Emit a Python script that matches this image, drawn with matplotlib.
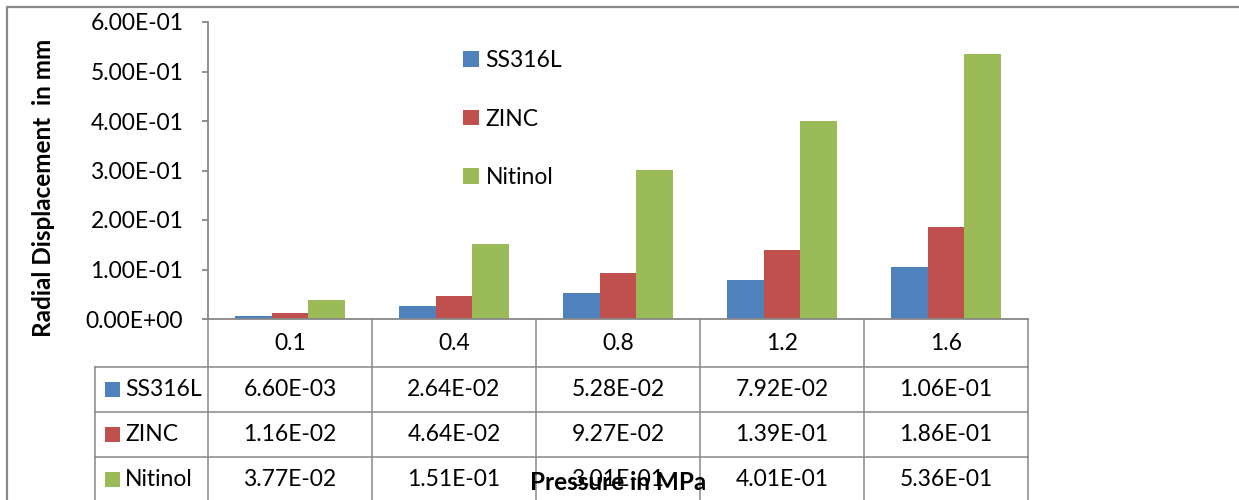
import matplotlib
matplotlib.use("Agg")
import matplotlib.pyplot as plt
from matplotlib.lines import Line2D
from matplotlib.patches import Rectangle, Patch
from matplotlib import transforms
import numpy as np

# Data: radial displacement (mm) vs. applied pressure (MPa)
pressures = ["0.1", "0.4", "0.8", "1.2", "1.6"]
materials = ["SS316L", "ZINC", "Nitinol"]
ss316l = [6.60e-3, 2.64e-2, 5.28e-2, 7.92e-2, 1.06e-1]
zinc = [1.16e-2, 4.64e-2, 9.27e-2, 1.39e-1, 1.86e-1]
nitinol = [3.77e-2, 1.51e-1, 3.01e-1, 4.01e-1, 5.36e-1]
series = [ss316l, zinc, nitinol]
colors = ["#4F81BD", "#C0504D", "#9BBB59"]
yticks = [0.0, 0.1, 0.2, 0.3, 0.4, 0.5, 0.6]

plt.rcParams['font.family'] = ['Lato', 'DejaVu Sans']
GRAY = "#888888"
FS = 16.5

W, H = 1239, 500
fig = plt.figure(figsize=(W / 100, H / 100), dpi=100)


def fx(px):
    return px / W


def fy(py):
    return 1 - py / H


ax = fig.add_axes([fx(208), fy(319), (1028 - 208) / W, (319 - 22) / H])

n = len(pressures)
x = np.arange(n)
bw = 0.2225
for i, (vals, c, name) in enumerate(zip(series, colors, materials)):
    ax.bar(x + (i - 1) * bw, vals, width=bw, color=c, edgecolor='none', label=name)

ax.set_xlim(-0.5, n - 0.5)
ax.set_ylim(0, 0.6)
ax.set_yticks(yticks)
ax.set_yticklabels([f"{v:.2E}" for v in yticks], fontsize=FS)
ax.set_xticks([])
for s in ["top", "right"]:
    ax.spines[s].set_visible(False)
for s in ["left", "bottom"]:
    ax.spines[s].set_color(GRAY)
    ax.spines[s].set_linewidth(1.3)
ax.tick_params(axis='y', direction='out', length=4.3, width=1.3, color=GRAY, pad=13.5)

# Legend
handles = [Patch(facecolor=c, edgecolor='none') for c in colors]
fig.legend(handles, materials, loc='upper left',
           bbox_to_anchor=(fx(463), fy(50)), frameon=False, fontsize=FS,
           handlelength=0.68, handleheight=0.68, handletextpad=0.3,
           labelspacing=1.64, borderpad=0, borderaxespad=0)

# Y axis title
fig.text(fx(44), fy(188), "Radial Displacement  in mm", rotation=90,
         ha='center', va='center', fontsize=17.5, fontweight='bold')

# Data table below the axis
bt = transforms.blended_transform_factory(ax.transData, fig.transFigure)
row_edges = [319, 367, 412, 457, 520]
lw = 1.1
for k in range(n + 1):
    fig.add_artist(Line2D([k - 0.5, k - 0.5], [fy(319), fy(520)],
                          transform=bt, color=GRAY, lw=lw))
for ry in row_edges[1:4]:
    fig.add_artist(Line2D([fx(95), fx(1028)], [fy(ry), fy(ry)],
                          color=GRAY, lw=lw))
fig.add_artist(Line2D([fx(95), fx(95)], [fy(367), fy(520)], color=GRAY, lw=lw))

for k, p in enumerate(pressures):
    fig.text(k, fy(344), p, transform=bt, ha='center', va='center', fontsize=FS)

for r, (vals, c, name) in enumerate(zip(series, colors, materials)):
    yc = (row_edges[r + 1] + row_edges[r + 2]) / 2 if r < 2 else 479
    fig.add_artist(Rectangle((fx(105), fy(yc + 7.5)), 15 / W, 15 / H,
                             facecolor=c, edgecolor='none', transform=fig.transFigure))
    fig.text(fx(125), fy(yc), name, ha='left', va='center', fontsize=FS)
    for k, v in enumerate(vals):
        fig.text(k, fy(yc), f"{v:.2E}", transform=bt, ha='center', va='center',
                 fontsize=FS)

# X axis title
fig.text(fx(618), fy(482), "Pressure in MPa", ha='center', va='center',
         fontsize=17.5, fontweight='bold')

# Outer chart frame
fig.add_artist(Line2D([fx(6.5), fx(6.5), fx(1240)], [fy(501), fy(6.5), fy(6.5)],
                      color=GRAY, lw=1.6))

fig.savefig("out.png", dpi=100)
